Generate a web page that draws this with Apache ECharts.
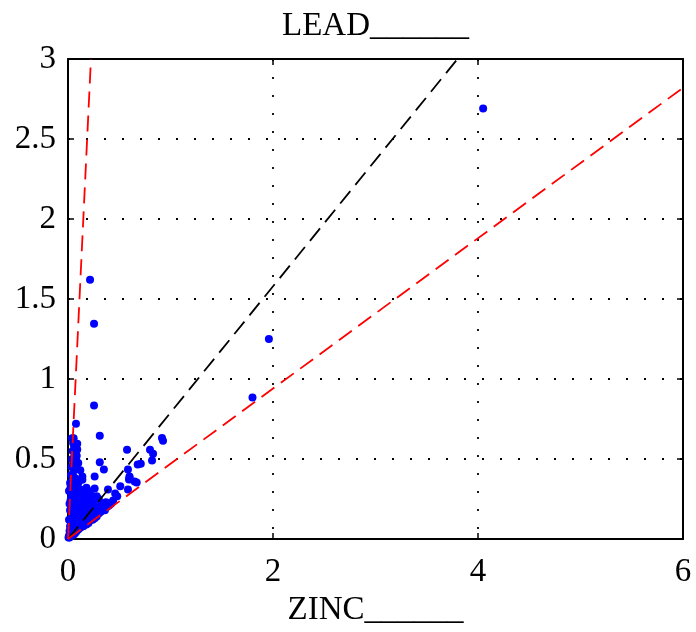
<!DOCTYPE html>
<html><head><meta charset="utf-8">
<script src="https://cdn.jsdelivr.net/npm/echarts@6/dist/echarts.min.js"></script>
<style>html,body{margin:0;padding:0;background:#fff}#c{width:696px;height:632px}</style>
</head><body><div id="c"></div>
<script>
var titleText = 'LEAD______';
var xName = 'ZINC______';
var xTicks = [0, 2, 4, 6];
var yTicks = [0, 0.5, 1, 1.5, 2, 2.5, 3];
// [ZINC, LEAD] pairs
var points = [
  [4.05,2.69],[1.96,1.25],[1.80,0.885],[0.215,1.62],[0.254,1.345],[0.254,0.835],[0.31,0.645],
  [0.078,0.72],[0.917,0.632],[0.927,0.614],[0.576,0.558],[0.80,0.558],[0.83,0.533],[0.82,0.49],
  [0.71,0.47],[0.68,0.465],[0.31,0.48],[0.35,0.434],[0.26,0.39],[0.60,0.384],[0.595,0.372],
  [0.67,0.353],[0.585,0.31],[0.51,0.33],[0.39,0.31],[0.46,0.285],[0.48,0.267],[0.26,0.316],
  [0.28,0.267],[0.33,0.223],[0.41,0.223],[0.585,0.434],[0.60,0.39],[0.65,0.36],
  [0.04,0.63],[0.09,0.595],[0.09,0.56],[0.085,0.52],[0.07,0.48],[0.10,0.475],[0.12,0.43],[0.14,0.39],
  [0.005,0.01],[0.01,0.02],[0.015,0.01],[0.02,0.04],[0.02,0.015],[0.025,0.06],[0.03,0.02],[0.03,0.1],
  [0.035,0.03],[0.04,0.05],[0.04,0.15],[0.045,0.025],[0.05,0.08],[0.05,0.2],[0.055,0.04],[0.06,0.12],
  [0.06,0.03],[0.065,0.25],[0.07,0.06],[0.07,0.18],[0.075,0.04],[0.08,0.1],[0.08,0.3],[0.085,0.05],
  [0.09,0.14],[0.09,0.22],[0.1,0.06],[0.1,0.08],[0.1,0.17],[0.11,0.1],[0.11,0.27],[0.12,0.07],
  [0.12,0.13],[0.13,0.09],[0.13,0.2],[0.14,0.11],[0.14,0.16],[0.15,0.08],[0.15,0.13],[0.16,0.1],
  [0.16,0.19],[0.17,0.12],[0.18,0.09],[0.18,0.15],[0.19,0.11],[0.2,0.13],[0.2,0.1],[0.21,0.17],
  [0.22,0.12],[0.23,0.14],[0.24,0.12],[0.25,0.15],[0.26,0.13],[0.27,0.17],[0.28,0.14],[0.3,0.16],
  [0.32,0.17],[0.34,0.19],[0.36,0.18],[0.38,0.2],[0.4,0.21],[0.42,0.22],[0.44,0.24],
  [0.01,0.3],[0.02,0.35],[0.03,0.4],[0.035,0.45],[0.04,0.5],[0.045,0.55],[0.05,0.6],[0.055,0.63],
  [0.06,0.58],[0.07,0.53],[0.08,0.49],[0.09,0.47],[0.05,0.47],[0.06,0.43],[0.07,0.38],[0.1,0.35],
  [0.12,0.31],[0.14,0.37],[0.15,0.28],[0.18,0.25],[0.2,0.3],[0.22,0.24],[0.25,0.22],[0.28,0.2],
  [0.3,0.25],[0.04,0.27],[0.03,0.2],[0.01,0.12],[0.015,0.22],[0.025,0.32],[0.18,0.32],[0.22,0.28],
  [0.16,0.22],[0.12,0.24],[0.1,0.2],[0.08,0.15],[0.06,0.09],[0.04,0.08],[0.13,0.26],[0.2,0.2],
  [0.02,0.08],[0.02,0.18],[0.03,0.26],[0.045,0.34],[0.05,0.39],[0.06,0.33],[0.07,0.27],[0.08,0.23],
  [0.09,0.29],[0.1,0.26],[0.11,0.21],[0.12,0.18],[0.13,0.15],[0.14,0.2],[0.15,0.18],[0.16,0.15],
  [0.17,0.17],[0.17,0.26],[0.19,0.22],[0.21,0.14],[0.23,0.19],[0.24,0.17],[0.26,0.18],[0.27,0.15],
  [0.29,0.19],[0.31,0.2],[0.33,0.18],[0.35,0.21],[0.37,0.23],[0.05,0.14],[0.07,0.1],[0.09,0.11],
  [0.11,0.14],[0.03,0.06],[0.015,0.05],[0.055,0.06],[0.065,0.17],[0.035,0.13],[0.025,0.24],[0.045,0.4]
];
var lineBlack = [[0,0],[3.8,3]];
var lineRedLow = [[0,0],[6,2.82]];
var lineRedHigh = [[0,0],[0.224,3]];

var FONT = 'Liberation Serif';
var FS = 33;
function axisCommon(show) {
  return {
    axisLine: {show: true, onZero: false, lineStyle: {color: '#000', width: 2}},
    axisTick: {show: true, inside: true, length: 6, lineStyle: {color: '#000', width: 1.5}},
    axisLabel: {show: show, color: '#000', fontFamily: FONT, fontSize: FS},
    splitLine: {show: false}
  };
}
var xMain = Object.assign(axisCommon(true), {
  type: 'value', position: 'bottom', min: 0, max: 6, interval: 2,
  name: xName, nameLocation: 'middle', nameGap: 55,
  nameTextStyle: {color: '#000', fontFamily: FONT, fontSize: FS},
  splitLine: {show: true, lineStyle: {color: '#000', width: 1.8, type: [2, 16]}}
});
xMain.axisLabel.margin = 17;
var yMain = Object.assign(axisCommon(true), {
  type: 'value', position: 'left', min: 0, max: 3, interval: 0.5,
  splitLine: {show: true, lineStyle: {color: '#000', width: 1.8, type: [2, 16]}}
});
yMain.axisLabel.margin = 12;
var xTop = Object.assign(axisCommon(false), {
  type: 'value', position: 'top', min: 0, max: 6, interval: 2,
  name: titleText, nameLocation: 'middle', nameGap: 16,
  nameTextStyle: {color: '#000', fontFamily: FONT, fontSize: FS}
});
var yRight = Object.assign(axisCommon(false), {type: 'value', position: 'right', min: 0, max: 3, interval: 0.5});

var chart = echarts.init(document.getElementById('c'));
chart.setOption({
  backgroundColor: '#fff',
  animation: false,
  grid: {left: 68, right: 13, top: 59, bottom: 89},
  xAxis: [xMain, xTop],
  yAxis: [yMain, yRight],
  series: [
    {type: 'scatter', data: points, symbolSize: 8, itemStyle: {color: '#0000ff', opacity: 1}, z: 2},
    {type: 'line', data: lineBlack, showSymbol: false, z: 3,
      lineStyle: {color: '#000', width: 1.8, type: [16, 8]}},
    {type: 'line', data: lineRedLow, showSymbol: false, z: 3,
      lineStyle: {color: '#ff0000', width: 1.8, type: [16, 8]}},
    {type: 'line', data: lineRedHigh, showSymbol: false, z: 3,
      lineStyle: {color: '#ff0000', width: 1.8, type: [16, 8]}}
  ]
});
</script></body></html>
